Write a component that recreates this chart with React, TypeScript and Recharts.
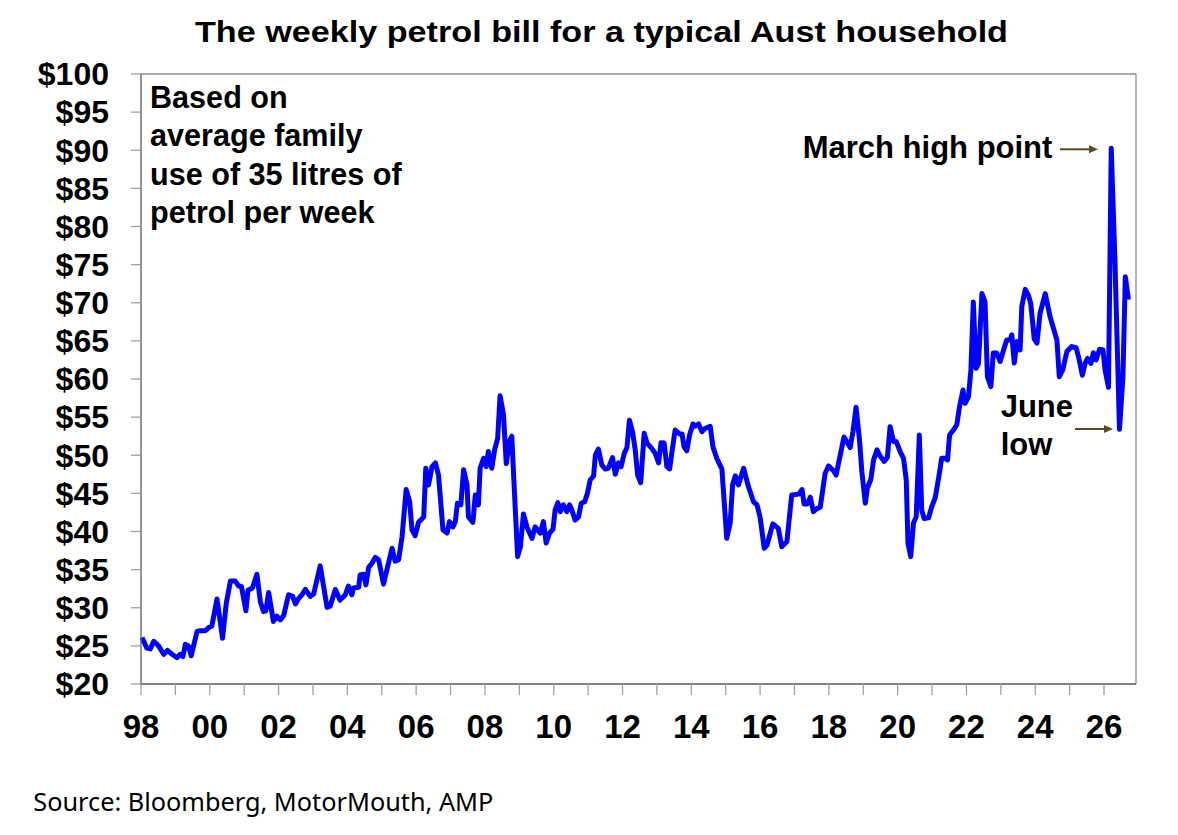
import React from "react";
import { LineChart, Line, XAxis, YAxis, ReferenceLine } from "recharts";

// decimal year of each observation, one row per calendar year
const months = [
  1998.03, 1998.17, 1998.27, 1998.37, 1998.51, 1998.66, 1998.77, 1998.9,
  1999.05, 1999.14, 1999.22, 1999.29, 1999.38, 1999.46, 1999.63, 1999.72, 1999.87, 1999.97,
  2000.06, 2000.21, 2000.37, 2000.48, 2000.6, 2000.74, 2000.84, 2000.92,
  2001.05, 2001.11, 2001.24, 2001.37, 2001.47, 2001.56, 2001.63, 2001.71, 2001.85, 2001.95,
  2002.05, 2002.15, 2002.29, 2002.41, 2002.49, 2002.58, 2002.68, 2002.78, 2002.92,
  2003.02, 2003.21, 2003.41, 2003.5, 2003.65, 2003.79, 2003.94,
  2004.03, 2004.13, 2004.18, 2004.33, 2004.37, 2004.47, 2004.54, 2004.62, 2004.71, 2004.81, 2004.91,
  2005.05, 2005.3, 2005.39, 2005.49, 2005.59, 2005.71, 2005.81, 2005.88, 2005.97,
  2006.07, 2006.22, 2006.28, 2006.36, 2006.46, 2006.56, 2006.65, 2006.78, 2006.9, 2006.97,
  2007.07, 2007.14, 2007.2, 2007.3, 2007.38, 2007.48, 2007.52, 2007.65, 2007.72, 2007.81, 2007.86, 2007.96,
  2008.04, 2008.1, 2008.2, 2008.28, 2008.37, 2008.44, 2008.54, 2008.62, 2008.71, 2008.78, 2008.86, 2008.95,
  2009.03, 2009.12, 2009.22, 2009.37, 2009.46, 2009.61, 2009.7, 2009.78, 2009.88, 2009.98,
  2010.04, 2010.12, 2010.19, 2010.28, 2010.38, 2010.46, 2010.53, 2010.62, 2010.72, 2010.8, 2010.9, 2010.98,
  2011.06, 2011.16, 2011.21, 2011.3, 2011.4, 2011.5, 2011.59, 2011.71, 2011.79, 2011.88, 2011.96,
  2012.05, 2012.13, 2012.2, 2012.29, 2012.37, 2012.44, 2012.53, 2012.63, 2012.71, 2012.85, 2012.95,
  2013.05, 2013.12, 2013.21, 2013.29, 2013.37, 2013.44, 2013.53, 2013.66, 2013.73, 2013.79, 2013.87, 2013.95,
  2014.05, 2014.11, 2014.21, 2014.31, 2014.4, 2014.55, 2014.63, 2014.74, 2014.89, 2014.96,
  2015.03, 2015.13, 2015.2, 2015.28, 2015.37, 2015.52, 2015.66, 2015.81, 2015.91,
  2016.0, 2016.12, 2016.2, 2016.37, 2016.53, 2016.63, 2016.78, 2016.92,
  2017.12, 2017.22, 2017.28, 2017.37, 2017.46, 2017.55, 2017.65, 2017.75, 2017.89, 2017.99,
  2018.13, 2018.21, 2018.33, 2018.44, 2018.52, 2018.62, 2018.7, 2018.79, 2018.89, 2018.96,
  2019.06, 2019.12, 2019.22, 2019.3, 2019.4, 2019.49, 2019.61, 2019.7, 2019.78, 2019.88, 2019.96,
  2020.07, 2020.17, 2020.25, 2020.3, 2020.38, 2020.46, 2020.54, 2020.63, 2020.7, 2020.77, 2020.9, 2020.99,
  2021.09, 2021.19, 2021.28, 2021.38, 2021.45, 2021.51, 2021.62, 2021.72, 2021.8, 2021.9, 2021.96,
  2022.06, 2022.13, 2022.2, 2022.28, 2022.35, 2022.45, 2022.54, 2022.61, 2022.71, 2022.78, 2022.88, 2022.98,
  2023.08, 2023.17, 2023.27, 2023.32, 2023.39, 2023.47, 2023.56, 2023.61, 2023.71, 2023.8, 2023.87, 2023.97,
  2024.05, 2024.14, 2024.29, 2024.43, 2024.63, 2024.7, 2024.8, 2024.92,
  2025.06, 2025.19, 2025.28, 2025.37, 2025.45, 2025.52, 2025.62, 2025.69, 2025.77, 2025.87, 2025.97,
  2026.03, 2026.13, 2026.21, 2026.32, 2026.45, 2026.55, 2026.62, 2026.71,
];

// weekly petrol bill ($), same rows as above
const bill = [
  26.1, 24.7, 24.6, 25.6, 25.0, 23.9, 24.4, 23.9,
  23.45, 23.9, 23.6, 25.2, 25.0, 23.7, 26.9, 27.0, 27.0, 27.4,
  27.6, 31.15, 26.0, 30.6, 33.5, 33.5, 32.85, 32.8,
  29.6, 32.3, 32.6, 34.4, 30.8, 29.5, 29.6, 32.0, 28.2, 28.9,
  28.4, 29.0, 31.7, 31.5, 30.5, 31.2, 31.7, 32.4, 31.5,
  31.8, 35.5, 30.05, 30.2, 32.4, 31.0, 31.7,
  32.85, 31.7, 32.6, 32.7, 34.3, 34.4, 33.0, 35.3, 35.8, 36.6, 36.3,
  33.1, 37.8, 36.1, 36.3, 39.3, 45.5, 43.9, 40.2, 39.45,
  41.2, 41.9, 48.3, 46.1, 48.5, 49.0, 47.4, 40.2, 39.8, 41.3,
  40.6, 41.3, 43.7, 43.5, 48.1, 46.1, 41.9, 41.2, 44.8, 43.5, 48.3, 49.6,
  48.5, 50.5, 48.3, 50.7, 52.2, 57.8, 55.3, 48.9, 51.8, 52.5, 45.0, 36.7,
  38.0, 42.3, 40.6, 39.1, 40.6, 39.8, 41.3, 38.5, 39.8, 40.3,
  42.8, 43.8, 42.6, 43.5, 42.6, 43.5, 42.8, 41.5, 41.9, 43.7, 43.9, 45.0,
  46.75, 47.3, 50.0, 50.8, 48.7, 48.2, 48.3, 49.7, 47.5, 49.0, 48.5,
  50.25, 51.0, 54.6, 53.1, 50.7, 47.4, 46.4, 52.9, 51.6, 50.9, 50.25,
  49.0, 51.65, 51.6, 48.5, 48.2, 50.5, 53.3, 52.8, 52.8, 51.1, 50.6, 52.65,
  54.1, 53.8, 54.1, 53.1, 53.5, 53.8, 51.1, 49.6, 48.2, 43.7,
  39.1, 41.1, 46.1, 47.3, 46.1, 48.3, 45.9, 43.9, 43.5,
  41.9, 37.8, 38.2, 41.0, 40.4, 38.0, 38.7, 44.8,
  44.9, 45.5, 43.6, 43.6, 44.5, 42.6, 43.0, 43.2, 47.6, 48.6,
  48.0, 47.4, 50.0, 52.4, 51.8, 51.0, 53.1, 56.3, 52.0, 47.8,
  43.7, 45.7, 46.85, 49.4, 50.7, 49.9, 49.2, 49.7, 53.75, 51.8, 51.8,
  50.5, 49.6, 46.75, 38.45, 36.7, 41.1, 41.95, 52.65, 42.8, 41.7, 41.8, 43.25,
  44.4, 47.0, 49.6, 49.6, 49.4, 52.65, 53.3, 54.0, 56.4, 58.55, 56.8,
  57.7, 61.2, 70.1, 61.4, 62.0, 71.2, 70.1, 60.3, 59.0, 63.4, 63.4, 62.3,
  63.8, 65.1, 65.1, 65.8, 62.1, 64.9, 63.8, 69.5, 71.75, 71.0, 69.9, 65.3,
  64.7, 68.6, 71.2, 68.2, 65.1, 60.3, 61.2, 63.6,
  64.25, 64.1, 62.5, 60.5, 62.05, 62.7, 62.05, 63.45, 62.5, 63.9, 63.8,
  61.2, 58.9, 90.25, 75.2, 53.4, 60.3, 73.4, 70.4,
];

const yearTicks = [
  1998, 1999, 2000, 2001, 2002, 2003, 2004, 2005, 2006, 2007, 2008, 2009, 2010, 2011, 2012,
  2013, 2014, 2015, 2016, 2017, 2018, 2019, 2020, 2021, 2022, 2023, 2024, 2025, 2026,
];
const dollarTicks = [20, 25, 30, 35, 40, 45, 50, 55, 60, 65, 70, 75, 80, 85, 90, 95, 100];
const X_END = 2026.93;

const noteLines = ["Based on", "average family", "use of 35 litres of", "petrol per week"];

const data = months.map((t, i) => ({ t, bill: bill[i] }));

const FONT = '"Liberation Sans", Arial, sans-serif';
const ARROW = "#5e4a22";

function Arrow({ x1, x2, y }: { x1: number; x2: number; y: number }) {
  return (
    <g>
      <line x1={x1} y1={y} x2={x2 - 7} y2={y} stroke={ARROW} strokeWidth={2} />
      <polygon points={`${x2},${y} ${x2 - 9},${y - 4} ${x2 - 9},${y + 4}`} fill={ARROW} />
    </g>
  );
}

export default function App() {
  return (
    <div style={{ position: "relative", width: 1162, height: 827, background: "#fff" }}>
      <LineChart
        width={1162}
        height={760}
        data={data}
        margin={{ top: 66, right: 34, left: 0, bottom: 34 }}
      >
        <XAxis
          dataKey="t"
          type="number"
          domain={[1998, X_END]}
          ticks={yearTicks}
          interval={0}
          tickFormatter={(y: number) => (y % 2 === 0 ? String(y % 100).padStart(2, "0") : "")}
          height={50}
          tickSize={11}
          tickMargin={20}
          axisLine={{ stroke: "#595959", strokeWidth: 1.3 }}
          tickLine={{ stroke: "#a0a0a0", strokeWidth: 1.3 }}
          tick={{ fill: "#000", fontSize: 33, fontWeight: 700, fontFamily: FONT }}
        />
        <YAxis
          type="number"
          domain={[20, 100]}
          ticks={dollarTicks}
          interval={0}
          tickFormatter={(v: number) => `$${v}`}
          width={133}
          tickSize={10}
          tickMargin={22}
          axisLine={{ stroke: "#595959", strokeWidth: 1.3 }}
          tickLine={{ stroke: "#a0a0a0", strokeWidth: 1.3 }}
          tick={{ fill: "#000", fontSize: 32, fontWeight: 700, fontFamily: FONT }}
        />
        <ReferenceLine y={100} stroke="#8c8c8c" strokeWidth={1.3} />
        <ReferenceLine x={X_END} stroke="#8c8c8c" strokeWidth={1.3} />
        <Line
          type="linear"
          dataKey="bill"
          stroke="#0000ff"
          strokeWidth={5}
          strokeLinejoin="round"
          dot={false}
          isAnimationActive={false}
        />
      </LineChart>

      <svg
        width={1162}
        height={827}
        style={{ position: "absolute", left: 0, top: 0, pointerEvents: "none" }}
        fontFamily={FONT}
      >
        <text
          x={593.5}
          y={33.7}
          textAnchor="middle"
          fontSize={29}
          fontWeight={700}
          textLength={813}
          lengthAdjust="spacingAndGlyphs"
        >
          The weekly petrol bill for a typical Aust household
        </text>

        {noteLines.map((s, i) => (
          <text key={s} x={142} y={100 + i * 38.4} fontSize={30.6} fontWeight={700}>
            {s}
          </text>
        ))}

        <text x={794.7} y={150.3} fontSize={31} fontWeight={700}>March high point</text>
        <Arrow x1={1052} x2={1090} y={141.3} />

        <text x={992.7} y={408.7} fontSize={31} fontWeight={700}>June</text>
        <text x={992.7} y={447} fontSize={31} fontWeight={700}>low</text>
        <Arrow x1={1067} x2={1105} y={421} />

        <text
          x={25.3}
          y={802.7}
          fontSize={26}
          fontFamily='"Noto Sans", "Open Sans", sans-serif'
          textLength={460}
          lengthAdjust="spacingAndGlyphs"
        >
          Source: Bloomberg, MotorMouth, AMP
        </text>
      </svg>
    </div>
  );
}
